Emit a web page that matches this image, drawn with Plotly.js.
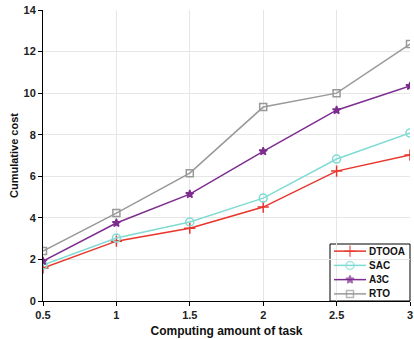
<!DOCTYPE html>
<html><head><meta charset="utf-8">
<script src="https://cdn.plot.ly/plotly-3.0.1.min.js"></script>
<style>body{margin:0;padding:0;background:#fff}#chart{width:414px;height:339px}</style>
</head><body><div id="chart"></div>
<script>
const xVals = [0.5, 1, 1.5, 2, 2.5, 3];
const dtooa = [1.59, 2.88, 3.5, 4.52, 6.25, 7.02];
const sac = [1.73, 3.03, 3.8, 4.95, 6.83, 8.08];
const a3c = [1.92, 3.75, 5.14, 7.2, 9.18, 10.34];
const rto = [2.4, 4.23, 6.15, 9.33, 10.0, 12.36];
const names = ['DTOOA', 'SAC', 'A3C', 'RTO'];
const xTicks = [0.5, 1, 1.5, 2, 2.5, 3];
const yTicks = [0, 2, 4, 6, 8, 10, 12, 14];

const series = [dtooa, sac, a3c, rto];
const colors = ['#e8352b', '#7fdbd3', '#7d2c8f', '#999999'];
const symbols = ['cross-thin-open', 'circle-open', 'star', 'square-open'];
const sizes = [8, 8, 6, 7];
const traces = series.map((s, i) => ({
  x: xVals, y: s, name: names[i], type: 'scatter', mode: 'lines+markers', showlegend: false,
  line: {color: colors[i], width: 1.5},
  marker: {symbol: symbols[i], size: sizes[i], color: colors[i], line: {color: colors[i], width: 1.5}}
}));

// Custom compact legend box (paper-fraction layout in overlay axes)
const W = 414, H = 339, M = {l: 43, r: 4, t: 10, b: 38};
const pw = W - M.l - M.r, ph = H - M.t - M.b;
const box = {x0: 1 - 80 / pw, x1: 1, y0: 0, y1: 57 / ph};
const rowH = (box.y1 - box.y0) / 4;
const lx0 = box.x0 + 4 / pw, lx1 = box.x0 + 36 / pw, lxm = (lx0 + lx1) / 2;
const annotations = [];
names.forEach((n, i) => {
  const yy = box.y1 - rowH * (i + 0.5);
  traces.push({
    x: [lx0, lxm, lx1], y: [yy, yy, yy], xaxis: 'x2', yaxis: 'y2', type: 'scatter', mode: 'lines+markers',
    showlegend: false, hoverinfo: 'skip',
    line: {color: colors[i], width: 1.5},
    marker: {symbol: symbols[i], size: [0, sizes[i], 0], color: colors[i], line: {color: colors[i], width: 1.5}}
  });
  annotations.push({xref: 'paper', yref: 'paper', x: lx1 + 1 / pw, y: yy, xanchor: 'left', yanchor: 'middle',
    text: n, showarrow: false, font: {family: 'Liberation Sans, Arial, sans-serif', size: 10, weight: 'bold', color: '#111'}});
});

const font = {family: 'Liberation Sans, Arial, sans-serif', size: 11, color: '#222'};
const layout = {
  width: W, height: H,
  margin: M,
  paper_bgcolor: '#fff', plot_bgcolor: '#fff',
  font: font,
  showlegend: false,
  annotations: annotations,
  shapes: [{type: 'rect', xref: 'paper', yref: 'paper', x0: box.x0, x1: box.x1, y0: box.y0, y1: box.y1,
    fillcolor: '#fff', line: {color: '#000', width: 1}, layer: 'between'}],
  xaxis: {
    range: [0.5, 3], tickvals: xTicks, ticktext: xTicks.map(String),
    showgrid: true, gridcolor: '#e6e6e6', zeroline: false,
    showline: true, linecolor: '#000', linewidth: 1, ticks: 'outside', ticklen: 4, tickcolor: '#000',
    ticklabeloverflow: 'allow',
    tickfont: {family: font.family, size: 11, weight: 'bold', color: '#222'},
    title: {text: 'Computing amount of task', font: {family: font.family, size: 12, weight: 'bold', color: '#111'}, standoff: 6}
  },
  yaxis: {
    range: [0, 14], tickvals: yTicks,
    showgrid: true, gridcolor: '#e6e6e6', zeroline: false,
    showline: true, linecolor: '#000', linewidth: 1, ticks: 'outside', ticklen: 4, tickcolor: '#000',
    tickfont: {family: font.family, size: 11, weight: 'bold', color: '#222'},
    title: {text: 'Cumulative cost', font: {family: font.family, size: 11, weight: 'bold', color: '#111'}, standoff: 2}
  },
  xaxis2: {overlaying: 'x', range: [0, 1], visible: false, fixedrange: true},
  yaxis2: {overlaying: 'y', range: [0, 1], visible: false, fixedrange: true}
};
Plotly.newPlot('chart', traces, layout, {displayModeBar: false, staticPlot: true});
</script></body></html>
